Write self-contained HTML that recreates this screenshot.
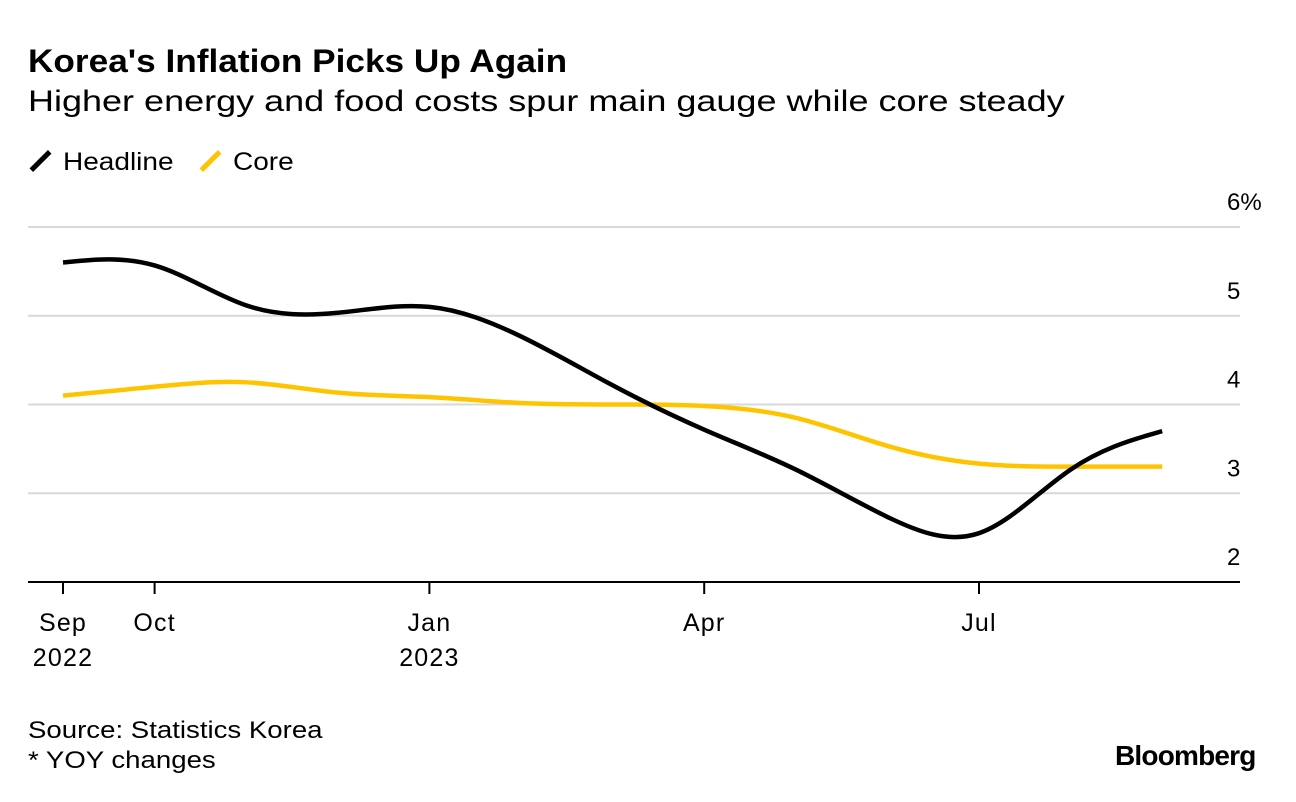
<!DOCTYPE html>
<html><head><meta charset="utf-8">
<style>
body{margin:0;background:#fff;font-family:"Liberation Sans",Arial,sans-serif;color:#000;}
#wrap{position:relative;width:1296px;height:802px;overflow:hidden;}
.t{position:absolute;white-space:nowrap;transform-origin:left top;}
</style></head><body>
<div id="wrap">
<div class="t" style="left:28px;top:43px;font-size:32px;font-weight:bold;transform:scaleX(1.1);">Korea's Inflation Picks Up Again</div>
<div class="t" style="left:28px;top:85px;font-size:30px;transform:scaleX(1.2);">Higher energy and food costs spur main gauge while core steady</div>
<div class="t" style="left:28px;top:148px;font-size:25px;"><span style="display:inline-block;width:5px;height:26px;background:#000;transform:rotate(45deg);margin:0 20px -4px 10px;"></span><span style="display:inline-block;transform:scaleX(1.12);transform-origin:left;">Headline</span></div>
<div class="t" style="left:198px;top:148px;font-size:25px;"><span style="display:inline-block;width:5px;height:26px;background:#ffc400;transform:rotate(45deg);margin:0 20px -4px 10px;"></span><span style="display:inline-block;transform:scaleX(1.12);transform-origin:left;">Core</span></div>
<svg id="plot" width="1296" height="802" style="position:absolute;left:0;top:0"></svg>
<div class="t" style="left:28px;top:717px;font-size:24px;transform:scaleX(1.15);">Source: Statistics Korea</div>
<div class="t" style="left:28px;top:747px;font-size:24px;transform:scaleX(1.15);">* YOY changes</div>
<div class="t" style="left:1115px;top:740px;font-size:28px;font-weight:bold;letter-spacing:-0.8px;">Bloomberg</div>
</div>
<script>
const months = ["Sep 2022","Oct 2022","Nov 2022","Dec 2022","Jan 2023","Feb 2023","Mar 2023","Apr 2023","May 2023","Jun 2023","Jul 2023","Aug 2023","Sep 2023"];
const headline = [5.6,5.7,5.0,5.0,5.2,4.8,4.2,3.7,3.3,2.7,2.3,3.4,3.7];
const core = [4.1,4.2,4.3,4.1,4.1,4.0,4.0,4.0,3.9,3.5,3.3,3.3,3.3];
const yTicks = [2,3,4,5,6];
const yTickLabels = ["2","3","4","5","6%"];
const xTickIdx = [0,1,4,7,10];
const xTickLine1 = ["Sep","Oct","Jan","Apr","Jul"];
const xTickLine2 = ["2022","","2023","",""];

const svg = document.getElementById('plot');
const NS = 'http://www.w3.org/2000/svg';
const x = i => 63 + i*91.6;
const y = v => 582 - (v-2)*88.75;
function mk(tag, attrs){const e=document.createElementNS(NS,tag);for(const k in attrs)e.setAttribute(k,attrs[k]);svg.appendChild(e);return e;}

yTicks.forEach((v,i)=>{
  if(v>2){const g=mk('line',{x1:28,x2:1240,y1:y(v),y2:y(v),stroke:'#d9d9d9','stroke-width':2});
  
  }
  const t=mk('text',{x:1227,y:y(v)-17,'font-size':24,'font-family':'Liberation Sans, Arial, sans-serif'});
  t.textContent=yTickLabels[i];
  
  
});
const ax=mk('line',{x1:28,x2:1240,y1:582,y2:582,stroke:'#000','stroke-width':2});


xTickIdx.forEach((m,i)=>{
  const tk=mk('line',{x1:x(m),x2:x(m),y1:582,y2:594,stroke:'#000','stroke-width':2});
  
  
  const t=mk('text',{x:x(m),y:631,'text-anchor':'middle','font-size':25,'letter-spacing':1.2,'font-family':'Liberation Sans, Arial, sans-serif'});
  t.textContent=xTickLine1[i];
  
  
  if(xTickLine2[i]){const t2=mk('text',{x:x(m),y:666,'text-anchor':'middle','font-size':25,'letter-spacing':1.2,'font-family':'Liberation Sans, Arial, sans-serif'});
  t2.textContent=xTickLine2[i];
  
  }
});
function basis(vals){
  const p=vals.map((v,i)=>[x(i),y(v)]);
  let d='M'+p[0][0]+','+p[0][1];
  d+='L'+((5*p[0][0]+p[1][0])/6)+','+((5*p[0][1]+p[1][1])/6);
  const seg=(a,b,c)=>'C'+((2*a[0]+b[0])/3)+','+((2*a[1]+b[1])/3)+','+((a[0]+2*b[0])/3)+','+((a[1]+2*b[1])/3)+','+((a[0]+4*b[0]+c[0])/6)+','+((a[1]+4*b[1]+c[1])/6);
  for(let i=2;i<p.length;i++) d+=seg(p[i-2],p[i-1],p[i]);
  const n=p.length;
  d+=seg(p[n-2],p[n-1],p[n-1]);
  d+='L'+p[n-1][0]+','+p[n-1][1];
  return d;
}
const c=mk('path',{d:basis(core),fill:'none',stroke:'#ffc400','stroke-width':4.5});


const h=mk('path',{d:basis(headline),fill:'none',stroke:'#000','stroke-width':4.5});


</script>
</body></html>
